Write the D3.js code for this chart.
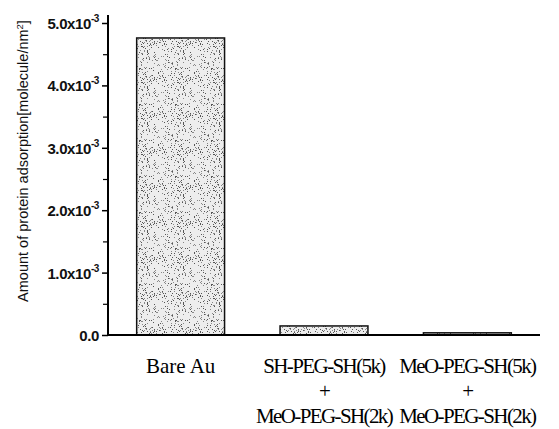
<!DOCTYPE html>
<html>
<head>
<meta charset="utf-8">
<script src="https://cdn.jsdelivr.net/npm/d3@7"></script>
<style>
  body { margin: 0; background: #fff; }
  svg { display: block; }
</style>
</head>
<body>
<div id="chart"></div>
<script>
// data (units of 1e-3 molecule/nm^2)
var categories = ['Bare Au', 'SH-PEG-SH(5k)', 'MeO-PEG-SH(5k)'];
var catLines = [['Bare Au'], ['SH-PEG-SH(5k)', '+', 'MeO-PEG-SH(2k)'], ['MeO-PEG-SH(5k)', '+', 'MeO-PEG-SH(2k)']];
var adsorption = [4.76, 0.145, 0.035];
var yTicks = [0, 1, 2, 3, 4, 5];
var yMinor = [0.5, 1.5, 2.5, 3.5, 4.5];
var yTitle = 'Amount of protein adsorption[molecule/nm';

var W = 559, H = 429;
var x0 = 108, x1 = 540, yBase = 335, yTop = 23;

var svg = d3.select('#chart').append('svg')
  .attr('width', W).attr('height', H);

// stipple texture for the bars (fixed pseudo-random speckle, decoration only)
var defs = svg.append('defs');
var pat = defs.append('pattern')
  .attr('id', 'dots').attr('patternUnits', 'userSpaceOnUse')
  .attr('width', 36).attr('height', 36);
pat.append('rect').attr('width', 36).attr('height', 36).attr('fill', '#ededed');
var seed = 7;
function lcg(){ seed = (seed * 1103515245 + 12345) % 2147483648; return seed / 2147483648; }
for (var k = 0; k < 170; k++) {
  pat.append('rect')
    .attr('x', Math.floor(lcg() * 36)).attr('y', Math.floor(lcg() * 36))
    .attr('width', 1).attr('height', 1)
    .attr('fill', lcg() < 0.5 ? '#555' : '#888');
}

var x = d3.scaleBand().domain(categories).range([x0, x1]).paddingInner(0.387).paddingOuter(0.2);
var y = d3.scaleLinear().domain([0, 5]).range([yBase, yTop]);

svg.selectAll('rect.bar').data(adsorption).enter().append('rect')
  .attr('class', 'bar')
  .attr('x', function(d, i){ return x(categories[i]); })
  .attr('y', function(d){ return y(d); })
  .attr('width', x.bandwidth())
  .attr('height', function(d){ return y(0) - y(d); })
  .attr('fill', 'url(#dots)')
  .attr('stroke', '#111').attr('stroke-width', 1.5);

// y axis
var ya = svg.append('g').attr('transform', 'translate(' + x0 + ',0)')
  .call(d3.axisLeft(y).tickValues(yTicks).tickSize(6).tickFormat(''));
ya.select('.domain').attr('stroke', '#000').attr('stroke-width', 2).attr('d', 'M0,' + yBase + 'V' + (yTop - 8));
ya.selectAll('.tick line').attr('stroke-width', 1.5);
svg.append('g').attr('transform', 'translate(' + x0 + ',0)')
  .call(d3.axisLeft(y).tickValues(yMinor).tickSize(5).tickFormat(''))
  .call(function(g){ g.select('.domain').remove(); g.selectAll('line').attr('stroke-width', 1.2); });

// x axis baseline
svg.append('line').attr('x1', x0).attr('x2', x1).attr('y1', yBase).attr('y2', yBase)
  .attr('stroke', '#000').attr('stroke-width', 2);

// tick labels
var tl = svg.selectAll('text.tl').data(yTicks).enter().append('text')
  .attr('class', 'tl')
  .attr('x', x0 - 9)
  .attr('y', function(d){ return y(d) + 6; })
  .attr('text-anchor', 'end')
  .style('font-family', 'Liberation Sans, Arial, sans-serif')
  .style('font-size', '15px').style('font-weight', 'bold')
  .style('letter-spacing', '-0.4px')
  .attr('fill', '#111');
tl.each(function(d){
  var t = d3.select(this);
  if (d === 0) { t.text('0.0'); return; }
  t.append('tspan').text(d.toFixed(1) + 'x10');
  t.append('tspan').attr('dy', -7).style('font-size', '10px').text('-3');
});

// y title
var yt = svg.append('text')
  .attr('transform', 'translate(28,' + 161 + ') rotate(-90)')
  .attr('text-anchor', 'middle')
  .style('font-family', 'Liberation Sans, Arial, sans-serif')
  .style('font-size', '14.5px').attr('fill', '#111');
yt.append('tspan').text(yTitle);
yt.append('tspan').attr('dy', -5).style('font-size', '9.5px').text('2');
yt.append('tspan').attr('dy', 5).text(']');

// category labels
catLines.forEach(function(lines, i){
  var cx = x(categories[i]) + x.bandwidth() / 2;
  lines.forEach(function(s, j){
    svg.append('text')
      .attr('x', cx).attr('y', 373 + j * 25)
      .attr('text-anchor', 'middle')
      .style('font-family', 'Liberation Serif, Times New Roman, serif')
      .style('font-size', '21px').style('letter-spacing', i === 0 ? '0px' : '-1.6px')
      .attr('fill', '#000')
      .text(s);
  });
});
</script>
</body>
</html>
